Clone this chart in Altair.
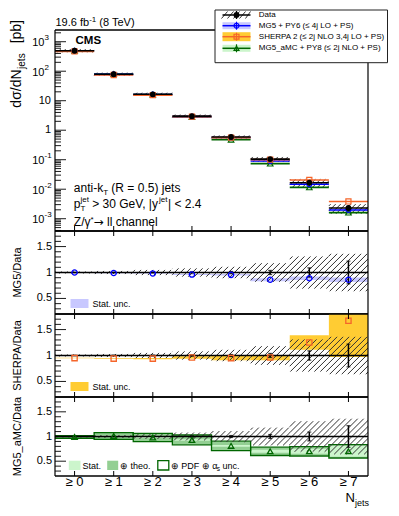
import altair as alt
import numpy as np
import pandas as pd

# ---------------- values ----------------
categories = ["≥ 0", "≥ 1", "≥ 2", "≥ 3", "≥ 4", "≥ 5", "≥ 6", "≥ 7"]
data_xsec = [495.0, 79.0, 16.5, 3.0, 0.59, 0.105, 0.0165, 0.0023]
data_stat = [0.003, 0.005, 0.008, 0.012, 0.02, 0.04, 0.09, 0.22]
data_total = [0.02, 0.03, 0.05, 0.08, 0.11, 0.18, 0.31, 0.36]
mg5_ratio = [1.00, 0.99, 0.98, 0.96, 0.955, 0.86, 0.89, 0.86]
mg5_stat = [0.003, 0.004, 0.006, 0.01, 0.015, 0.03, 0.035, 0.045]
sherpa_ratio = [0.95, 0.94, 0.94, 0.96, 0.95, 0.96, 1.25, 1.67]
sherpa_stat = [0.005, 0.008, 0.01, 0.025, 0.04, 0.05, 0.14, 0.70]
amc_ratio = [0.99, 1.01, 0.98, 0.93, 0.81, 0.70, 0.70, 0.70]
amc_stat = [0.005, 0.01, 0.01, 0.015, 0.02, 0.03, 0.05, 0.11]
amc_theo = [0.02, 0.06, 0.07, 0.09, 0.085, 0.075, 0.085, 0.125]
amc_total = [0.025, 0.07, 0.085, 0.10, 0.095, 0.085, 0.095, 0.135]
decades = [-3, -2, -1, 0, 1, 2, 3]
ratio_major = [0.5, 1.0, 1.5]
ratio_labels = ["0.5", "1", "1.5"]

# ---------------- layout / style ----------------
W = 313
HT, H2, H3, H4 = 201, 83, 83, 79
FONT = "Liberation Sans"
LOGMIN, LOGMAX = 3.83e-4, 2494.0
RMIN, RMAX = 0.2, 1.8
BLUE, LAV = "#0000ff", "#c8c8ff"
ORANGE, GOLD = "#f5652a", "#ffcc33"
GREEN, LGREEN, MGREEN = "#006600", "#ccf5cc", "#93cf93"
HATCH = "#333333"

EM = {" ": .278, "(": .333, ")": .333, "*": .389, "+": .584, ",": .278, "-": .333, ".": .278,
      "/": .278, "<": .584, "=": .584, ">": .584, "[": .278, "]": .278, "|": .26, "_": .556,
      "≤": .549, "≥": .549, "σ": .6, "γ": .5, "α": .58, "→": .838, "⊕": .84,
      "i": .222, "j": .222, "l": .222, "f": .278, "t": .278, "r": .333, "c": .5, "k": .5,
      "s": .5, "v": .5, "x": .5, "y": .5, "z": .5, "m": .833, "w": .722,
      "M": .833, "W": .944, "G": .778, "O": .778, "Q": .778, "C": .722, "D": .722, "H": .722,
      "N": .722, "R": .722, "U": .722, "T": .611, "F": .611, "Z": .611, "L": .556, "I": .278, "J": .5}


def tw(s, size):
    return sum(EM.get(ch, 0.556 if not ch.isupper() else 0.667) for ch in s) * size


n = np.arange(8)
bins = pd.DataFrame({"n": n, "lo": n - 0.5, "hi": n + 0.5, "cat": categories})
xs = alt.Scale(domain=[-0.5, 7.5], nice=False, zero=False)
SX = W / 8.0


def X(f):
    return alt.X(f + ":Q", scale=xs, axis=None)


def Y(f, sc):
    return alt.Y(f + ":Q", scale=sc, axis=None)


def one():
    return pd.DataFrame({"k": [0]})


def txt(t, x, y, size=11, align="left", baseline="alphabetic", weight="normal", angle=None,
        color="black", font=FONT):
    kw = dict(text=t, fontSize=size, align=align, baseline=baseline, font=font,
              fontWeight=weight, color=color)
    if angle is not None:
        kw["angle"] = angle
    return alt.Chart(one()).mark_text(**kw).encode(x=alt.value(x), y=alt.value(y))


def prule(x, x2, y, y2, color="black", sw=1.0):
    return alt.Chart(one()).mark_rule(color=color, strokeWidth=sw).encode(
        x=alt.value(x), x2=alt.value(x2), y=alt.value(y), y2=alt.value(y2))


def prect(x, x2, y, y2, fill="white", stroke=None, sw=1.0, fo=1.0):
    kw = dict(fill=fill, fillOpacity=fo)
    if stroke is not None:
        kw.update(stroke=stroke, strokeWidth=sw)
    else:
        kw.update(strokeWidth=0)
    return alt.Chart(one()).mark_rect(**kw).encode(
        x=alt.value(x), x2=alt.value(x2), y=alt.value(y), y2=alt.value(y2))


def ppoint(x, y, shape, color, filled, size):
    return alt.Chart(one()).mark_point(shape=shape, filled=filled, color=color, size=size,
                                       strokeWidth=1.2, opacity=1).encode(x=alt.value(x), y=alt.value(y))


def frame(H):
    return [prule(0, W, 0, 0, sw=1.3), prule(0, W, H, H, sw=1.3), prule(0, 0, 0, H, sw=1.2),
            prule(W, W, 0, H, sw=1.2)]


def hatch_segments(x0s, x1s, los, his, sy, logy=False, spacing=6.0, minhalf=0.0):
    rows = []
    for x0, x1, a, b in zip(x0s, x1s, los, his):
        X0, X1 = x0 * SX, x1 * SX
        if logy:
            Y0, Y1 = np.log10(a) * sy, np.log10(b) * sy
        else:
            Y0, Y1 = a * sy, b * sy
        if Y1 - Y0 < 2 * minhalf:
            c = (Y0 + Y1) / 2
            Y0, Y1 = c - minhalf, c + minhalf
        cmin, cmax = X0 - Y1, X1 - Y0
        for k in range(int(np.ceil(cmin / spacing)), int(np.floor(cmax / spacing)) + 1):
            c = k * spacing
            ylo = max(Y0, X0 - c)
            yhi = min(Y1, X1 - c)
            if yhi - ylo > 0.2:
                ya, yb = ylo / sy, yhi / sy
                if logy:
                    ya, yb = 10 ** ya, 10 ** yb
                rows.append(dict(x=(c + ylo) / SX, x2=(c + yhi) / SX, y=ya, y2=yb))
    return pd.DataFrame(rows)


def xticks(H, top=False):
    df = pd.DataFrame({"n": n})
    y0, y1 = (0, 5) if top else (H, H - 5)
    return alt.Chart(df).mark_rule(color="black", strokeWidth=1).encode(
        x=X("n"), y=alt.value(y0), y2=alt.value(y1))


def yticks(values, sc, length):
    df = pd.DataFrame({"v": values})
    return alt.Chart(df).mark_rule(color="black", strokeWidth=0.9).encode(
        y=Y("v", sc), x=alt.value(0), x2=alt.value(length))


# ================= top panel =================
yst = alt.Scale(type="log", domain=[LOGMIN, LOGMAX], nice=False)
SYT = HT / (np.log10(LOGMAX) - np.log10(LOGMIN))
d = np.array(data_xsec)
top = bins.copy()
top["data"] = d
top["dlo"] = d * (1 - np.array(data_stat))
top["dhi"] = d * (1 + np.array(data_stat))
top["mg5"] = d * np.array(mg5_ratio)
top["mg5lo"] = top["mg5"] * (1 - np.array(mg5_stat))
top["mg5hi"] = top["mg5"] * (1 + np.array(mg5_stat))
top["sherpa"] = d * np.array(sherpa_ratio)
top["amc"] = d * np.array(amc_ratio)

L = []
L.append(alt.Chart(top).mark_rect(fill=LAV, strokeWidth=0).encode(
    x=X("lo"), x2=alt.X2("hi"), y=Y("mg5lo", yst), y2=alt.Y2("mg5hi")))
hd = hatch_segments(top["lo"], top["hi"], d * (1 - np.array(data_total)), d * (1 + np.array(data_total)),
                    SYT, logy=True, minhalf=1.6, spacing=5.0)
L.append(alt.Chart(hd).mark_rule(color=HATCH, strokeWidth=1).encode(
    x=X("x"), x2=alt.X2("x2"), y=Y("y", yst), y2=alt.Y2("y2")))
for col, c in [("amc", GREEN), ("mg5", BLUE), ("sherpa", ORANGE)]:
    L.append(alt.Chart(top).mark_rule(color=c, strokeWidth=1.6).encode(
        x=X("lo"), x2=alt.X2("hi"), y=Y(col, yst)))
L.append(alt.Chart(top).mark_rule(color="black", strokeWidth=1.6).encode(
    x=X("lo"), x2=alt.X2("hi"), y=Y("data", yst)))
L.append(alt.Chart(top).mark_rule(color="black", strokeWidth=1.5).encode(
    x=X("n"), y=Y("dlo", yst), y2=alt.Y2("dhi")))
for col, c, shp, sz in [("amc", GREEN, "triangle-up", 30), ("mg5", BLUE, "circle", 24),
                        ("sherpa", ORANGE, "square", 26)]:
    L.append(alt.Chart(top).mark_point(shape=shp, filled=False, color=c, size=sz, strokeWidth=1.2,
                                       opacity=1).encode(x=X("n"), y=Y(col, yst)))
L.append(alt.Chart(top).mark_point(shape="circle", filled=True, color="black", size=34,
                                   opacity=1).encode(x=X("n"), y=Y("data", yst)))
# ticks
minor = [k * 10.0 ** e for e in range(-4, 4) for k in range(2, 10) if LOGMIN < k * 10.0 ** e < LOGMAX]
L.append(yticks([10.0 ** e for e in decades], yst, 11))
L.append(yticks(minor, yst, 6))
L.append(xticks(HT))
# tick labels
exp_df = pd.DataFrame({"v": [10.0 ** e for e in decades if e not in (0, 1)],
                       "base": ["10" for e in decades if e not in (0, 1)],
                       "ex": [str(e) for e in decades if e not in (0, 1)]})
plain_df = pd.DataFrame({"v": [1.0, 10.0], "t": ["1", "10"]})
L.append(alt.Chart(exp_df).mark_text(align="right", baseline="middle", fontSize=11, font=FONT, dy=1.5).encode(
    y=Y("v", yst), x=alt.value(-10.5), text="base:N"))
L.append(alt.Chart(exp_df).mark_text(align="left", baseline="middle", fontSize=8, font=FONT, dy=-3.5).encode(
    y=Y("v", yst), x=alt.value(-10.5), text="ex:N"))
L.append(alt.Chart(plain_df).mark_text(align="right", baseline="middle", fontSize=11, font=FONT).encode(
    y=Y("v", yst), x=alt.value(-4), text="t:N"))
L += frame(HT)

# annotations
L.append(txt("CMS", 20.5, 14, size=11.5, weight="bold"))
F, FS = 12, 8
ax = 18.8
b1, b2, b3 = 161.5, 177.5, 195.5
L.append(txt("anti-k", ax, b1, size=F))
L.append(txt("T", ax + tw("anti-k", F), b1 + 3, size=FS))
L.append(txt("(R = 0.5) jets", ax + tw("anti-k", F) + tw("T", FS) + tw(" ", F), b1, size=F))
L.append(txt("p", ax, b2, size=F))
L.append(txt("T", ax + tw("p", F), b2 + 3.5, size=FS))
L.append(txt("jet", ax + tw("p", F), b2 - 5.5, size=FS))
x2p = ax + tw("p", F) + tw("jet", FS) + tw(" ", F)
L.append(txt("> 30 GeV, |y", x2p, b2, size=F))
x3p = x2p + tw("> 30 GeV, |y", F)
L.append(txt("jet", x3p, b2 - 5.5, size=FS))
L.append(txt("| < 2.4", x3p + tw("jet", FS) + 0.5, b2, size=F))
L.append(txt("Z/γ", ax, b3, size=F))
L.append(txt("*", ax + tw("Z/γ", F), b3 - 4, size=FS))
xa = ax + tw("Z/γ", F) + tw("*", FS)
L.append(txt("→", xa, b3, size=F, font="DejaVu Sans"))
L.append(txt("ll channel", xa + tw("→", F) + tw(" ", F), b3, size=F))

# lumi title
L.append(txt("19.6 fb", 0.5, -4))
L.append(txt("-1", 0.5 + tw("19.6 fb", 11), -8.5, size=8))
L.append(txt("(8 TeV)", 0.5 + tw("19.6 fb", 11) + tw("-1", 8) + tw(" ", 11), -4))

# y title (rotated)
yt_end = -10
L.append(txt("[pb]", -34, yt_end, size=14, align="right", angle=270))
y_j = yt_end + tw("[pb]", 14) + 10
L.append(txt("jets", -30.5, y_j, size=10, align="right", angle=270))
y_d = y_j + tw("jets", 10) + 0.5
L.append(txt("dσ/dN", -34, y_d, size=14, align="right", angle=270))

# legend
L.append(prect(160, 332.5, -20, 32.7, fill="white", stroke="#222222", sw=1))
rows = [-15, -4.3, 6.7, 18.3]
sx0, sx1, scx = 167.5, 195.5, 181.5
tx = 203.8
r = rows[0]
for hx in [167.5, 173.5, 179.5, 185.5, 191.5]:
    L.append(prule(hx - 1, min(hx + 5, sx1), r + 3.5, r - 3.5, color=HATCH, sw=1))
L.append(prule(sx0, sx1, r, r, sw=1.5))
L.append(prule(scx, scx, r - 4, r + 4, sw=1.3))
L.append(ppoint(scx, r, "circle", "black", True, 34))
for r, band, bh, c, shp in [(rows[1], LAV, 3.5, BLUE, "circle"), (rows[2], GOLD, 4.5, ORANGE, "square"),
                            (rows[3], LGREEN, 3.5, GREEN, "triangle-up")]:
    L.append(prect(sx0, sx1, r - bh, r + bh, fill=band))
    L.append(prule(sx0, sx1, r, r, color=c, sw=1.5))
    L.append(prule(scx, scx, r - 4, r + 4, color=c, sw=1.2))
    L.append(ppoint(scx, r, shp, c, False, 24))
leg_txt = ["Data", "MG5 + PY6 (≤ 4j LO + PS)", "SHERPA 2 (≤ 2j NLO 3,4j LO + PS)",
           "MG5_aMC + PY8 (≤ 2j NLO + PS)"]
for r, t in zip(rows, leg_txt):
    L.append(txt(t, tx, r, size=8, baseline="middle"))
# anchor for the page's top-left corner
L.append(prect(-46.5, -40, -22, -15, fill="white", fo=0.0))

top_chart = alt.layer(*L).properties(width=W, height=HT)


# ================= ratio panels =================
def ratio_base(H, sc):
    sy = H / (RMAX - RMIN)
    tot = np.array(data_total)
    hd = hatch_segments(bins["lo"], bins["hi"], 1 - tot, 1 + tot, sy, spacing=6.0)
    hatch = alt.Chart(hd).mark_rule(color=HATCH, strokeWidth=1, clip=True).encode(
        x=X("x"), x2=alt.X2("x2"), y=Y("y", sc), y2=alt.Y2("y2"))
    one_line = alt.Chart(pd.DataFrame({"v": [1.0]})).mark_rule(color="black", strokeWidth=1.5).encode(
        y=Y("v", sc))
    st = np.array(data_stat)
    edf = bins.copy()
    edf["elo"] = 1 - st
    edf["ehi"] = 1 + st
    ebar = alt.Chart(edf).mark_rule(color="black", strokeWidth=1.5).encode(
        x=X("n"), y=Y("elo", sc), y2=alt.Y2("ehi"))
    caps_lo = alt.Chart(edf).mark_tick(orient="horizontal", size=4, thickness=1.2, color="black").encode(
        x=X("n"), y=Y("elo", sc))
    caps_hi = alt.Chart(edf).mark_tick(orient="horizontal", size=4, thickness=1.2, color="black").encode(
        x=X("n"), y=Y("ehi", sc))
    return hatch, one_line, [ebar, caps_lo, caps_hi]


def ratio_axes(H, sc, title):
    lay = []
    minors = [round(v, 1) for v in np.arange(0.3, 1.75, 0.1) if round(v, 1) not in ratio_major]
    lay.append(yticks(ratio_major, sc, 11))
    lay.append(yticks(minors, sc, 6))
    lay.append(xticks(H))
    lay.append(xticks(H, top=True))
    lab = pd.DataFrame({"v": ratio_major, "t": ratio_labels})
    lay.append(alt.Chart(lab).mark_text(align="right", baseline="middle", fontSize=11, font=FONT).encode(
        y=Y("v", sc), x=alt.value(-3), text="t:N"))
    lay += frame(H)
    lay.append(txt(title, -34, H / 2, size=11, align="center", angle=270))
    return lay


def model_panel(H, ratio, stat, color, shape, band, title):
    sc = alt.Scale(domain=[RMIN, RMAX], nice=False, zero=False)
    df = bins.copy()
    rr, ss = np.array(ratio), np.array(stat)
    df["r"] = rr
    df["rlo"] = np.clip(rr - ss, RMIN, RMAX)
    df["rhi"] = np.clip(rr + ss, RMIN, RMAX)
    hatch, one_line, ebars = ratio_base(H, sc)
    lay = [alt.Chart(df).mark_rect(fill=band, strokeWidth=0, clip=True).encode(
        x=X("lo"), x2=alt.X2("hi"), y=Y("rlo", sc), y2=alt.Y2("rhi")), hatch, one_line] + ebars
    lay.append(alt.Chart(df).mark_point(shape=shape, filled=False, color=color, size=28, strokeWidth=1.3,
                                        opacity=1).encode(x=X("n"), y=Y("r", sc)))
    lay += ratio_axes(H, sc, title)
    lay.append(prect(15.5, 33.5, 68, 77, fill=band))
    lay.append(txt("Stat. unc.", 37.5, 72.5, size=9, baseline="middle"))
    return alt.layer(*lay).properties(width=W, height=H)


p2 = model_panel(H2, mg5_ratio, mg5_stat, BLUE, "circle", LAV, "MG5/Data")
p3 = model_panel(H3, sherpa_ratio, sherpa_stat, ORANGE, "square", GOLD, "SHERPA/Data")

# ---- MG5_aMC panel ----
sc4 = alt.Scale(domain=[RMIN, RMAX], nice=False, zero=False)
a = bins.copy()
ar = np.array(amc_ratio)
a["r"] = ar
for nm, arr in [("s", amc_stat), ("t", amc_theo), ("p", amc_total)]:
    a[nm + "lo"] = ar - np.array(arr)
    a[nm + "hi"] = ar + np.array(arr)
hatch4, line4, ebars4 = ratio_base(H4, sc4)
lay4 = [
    alt.Chart(a).mark_rect(fill=MGREEN, strokeWidth=0, clip=True).encode(
        x=X("lo"), x2=alt.X2("hi"), y=Y("tlo", sc4), y2=alt.Y2("thi")),
    alt.Chart(a).mark_rect(fill=LGREEN, strokeWidth=0, clip=True).encode(
        x=X("lo"), x2=alt.X2("hi"), y=Y("slo", sc4), y2=alt.Y2("shi")),
    alt.Chart(a).mark_rect(fillOpacity=0, stroke=GREEN, strokeWidth=1.3, clip=True).encode(
        x=X("lo"), x2=alt.X2("hi"), y=Y("plo", sc4), y2=alt.Y2("phi")),
    hatch4, line4] + ebars4
lay4.append(alt.Chart(a).mark_point(shape="triangle-up", filled=False, color=GREEN, size=30, strokeWidth=1.3,
                                    opacity=1).encode(x=X("n"), y=Y("r", sc4)))
lay4 += ratio_axes(H4, sc4, "MG5_aMC/Data")
lay4.append(prect(13.8, 25.5, 63.7, 73, fill=LGREEN))
lay4.append(txt("Stat.", 27.5, 68.5, size=9, baseline="middle"))
lay4.append(prect(52.2, 63.2, 63.7, 73, fill=MGREEN))
lay4.append(txt("⊕ theo.", 65, 68.5, size=9, baseline="middle"))
lay4.append(prect(102.8, 113.8, 63.7, 73, fill="white", stroke=GREEN, sw=1.3))
lay4.append(txt("⊕ PDF ⊕ α", 115.8, 68.5, size=9, baseline="middle"))
xs_a = 115.8 + tw("⊕ PDF ⊕ α", 9)
lay4.append(txt("s", xs_a, 71.5, size=6.5, baseline="middle"))
lay4.append(txt("unc.", xs_a + tw("s", 6.5) + tw(" ", 9), 68.5, size=9, baseline="middle"))
# x labels
lay4.append(alt.Chart(bins).mark_text(fontSize=13, font=FONT, baseline="middle", align="center").encode(
    x=X("n"), y=alt.value(H4 + 6), text="cat:N"))
lay4.append(txt("N", 290.5, H4 + 26, size=13))
lay4.append(txt("jets", 290.5 + tw("N", 13), H4 + 29.5, size=9))
p4 = alt.layer(*lay4).properties(width=W, height=H4)

chart = alt.vconcat(top_chart, p2, p3, p4, spacing=0, bounds="flush").properties(
    padding=0, background="white").configure_view(stroke=None)

chart.save("out.html", embed_options={"renderer": "svg", "actions": False})
